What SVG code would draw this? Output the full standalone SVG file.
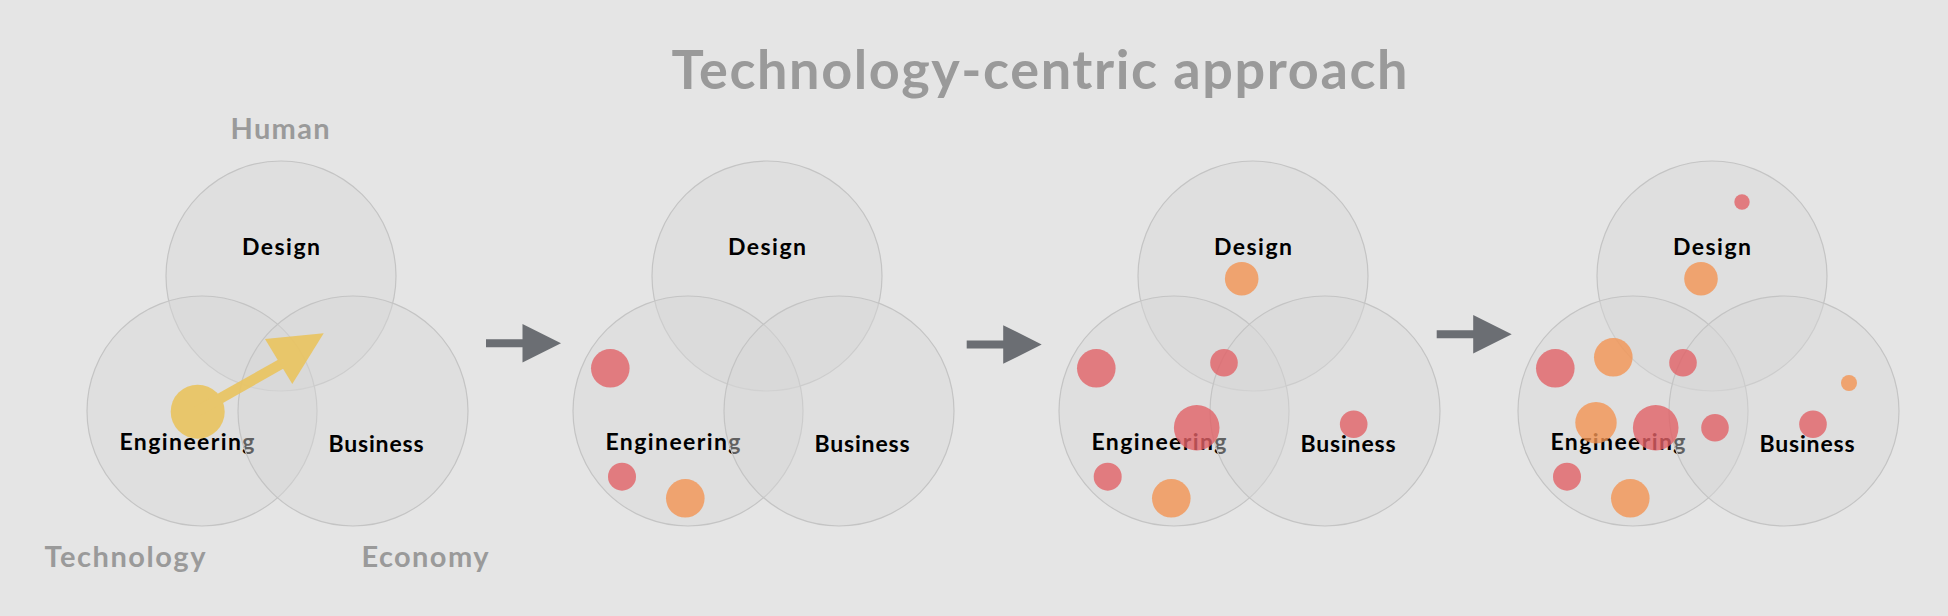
<svg xmlns="http://www.w3.org/2000/svg" xmlns:xlink="http://www.w3.org/1999/xlink" width="1948" height="616" viewBox="0 0 1948 616">
  <style>
    .bg { fill: #E5E5E5; }
    .set { fill: rgb(216,216,216); fill-opacity: 0.45; stroke: #C4C4C4; stroke-width: 1.2; }
    .lbl { font-family: Lato, "Noto Sans", "DejaVu Sans", sans-serif; font-weight: 700; font-size: 23px; fill: #000; text-anchor: middle; }
    .dim { font-family: Lato, "Noto Sans", "DejaVu Sans", sans-serif; font-weight: 700; fill: #9A9A9A; text-anchor: middle; }
    .red { fill: rgb(225,98,102); fill-opacity: 0.8; }
    .org { fill: rgb(242,148,82); fill-opacity: 0.8; }
    .gar { fill: #6B6E73; }
    .yel { fill: rgb(234,196,95); opacity: 0.9; }
  </style>
  <defs>
    <path id="garrow" d="M0,-4 L36.5,-4 L36.5,-19.3 L75,0 L36.5,19.3 L36.5,4 L0,4 Z"/>
  </defs>
  <rect class="bg" x="0" y="0" width="1948" height="616"/>

  <text id="title" class="dim" x="1039.5" y="89" font-size="54" textLength="736" lengthAdjust="spacing">Technology-centric approach</text>

  <g id="axis-labels">
    <text id="label-human" class="dim" x="280" y="139" font-size="29" textLength="99" lengthAdjust="spacing">Human</text>
    <text id="label-technology" class="dim" x="125" y="567" font-size="29" textLength="161" lengthAdjust="spacing">Technology</text>
    <text id="label-economy" class="dim" x="425" y="567" font-size="29" textLength="127" lengthAdjust="spacing">Economy</text>
  </g>

  <!-- Panel 1 -->
  <g id="panel1">
    <g id="p1-design"><circle class="set" cx="281" cy="276" r="115"/><text class="lbl" x="281" y="255" textLength="78" lengthAdjust="spacing">Design</text></g>
    <g id="p1-engineering"><circle class="set" cx="202" cy="411" r="115"/><text class="lbl" x="187" y="450" textLength="135" lengthAdjust="spacing">Engineering</text></g>
    <g id="p1-business"><circle class="set" cx="353" cy="411" r="115"/><text class="lbl" x="376" y="451.5" textLength="95" lengthAdjust="spacing">Business</text></g>
    <g id="p1-move" class="yel">
      <circle cx="197.7" cy="411.7" r="27"/>
      <path d="M194,407 L283,357 L288,366 L200,416 Z"/>
      <polygon points="265,339 323.7,333.3 292.3,384"/>
    </g>
  </g>

  <!-- Panel 2 -->
  <g id="panel2">
    <g id="p2-design"><circle class="set" cx="767" cy="276" r="115"/><text class="lbl" x="767" y="255" textLength="78" lengthAdjust="spacing">Design</text></g>
    <g id="p2-engineering"><circle class="set" cx="688" cy="411" r="115"/><text class="lbl" x="673" y="450" textLength="135" lengthAdjust="spacing">Engineering</text></g>
    <g id="p2-business"><circle class="set" cx="839" cy="411" r="115"/><text class="lbl" x="862" y="451.5" textLength="95" lengthAdjust="spacing">Business</text></g>
    <g id="p2-dots">
      <circle class="red" cx="610.3" cy="368.3" r="19.3"/>
      <circle class="red" cx="622" cy="476.7" r="14"/>
      <circle class="org" cx="685.3" cy="498.3" r="19.3"/>
    </g>
  </g>

  <!-- Panel 3 -->
  <g id="panel3">
    <g id="p3-design"><circle class="set" cx="1253" cy="276" r="115"/><text class="lbl" x="1253" y="255" textLength="78" lengthAdjust="spacing">Design</text></g>
    <g id="p3-engineering"><circle class="set" cx="1174" cy="411" r="115"/><text class="lbl" x="1159" y="450" textLength="135" lengthAdjust="spacing">Engineering</text></g>
    <g id="p3-business"><circle class="set" cx="1325" cy="411" r="115"/><text class="lbl" x="1348" y="451.5" textLength="95" lengthAdjust="spacing">Business</text></g>
    <g id="p3-dots">
      <circle class="org" cx="1241.7" cy="278.7" r="16.8"/>
      <circle class="red" cx="1096.3" cy="368.3" r="19.3"/>
      <circle class="red" cx="1224" cy="362.7" r="13.8"/>
      <circle class="red" cx="1196.7" cy="427.7" r="22.8"/>
      <circle class="red" cx="1353.7" cy="424.3" r="13.8"/>
      <circle class="red" cx="1107.7" cy="476.7" r="14"/>
      <circle class="org" cx="1171.3" cy="498.3" r="19.3"/>
    </g>
  </g>

  <!-- Panel 4 -->
  <g id="panel4">
    <g id="p4-design"><circle class="set" cx="1712" cy="276" r="115"/><text class="lbl" x="1712" y="255" textLength="78" lengthAdjust="spacing">Design</text></g>
    <g id="p4-engineering"><circle class="set" cx="1633" cy="411" r="115"/><text class="lbl" x="1618" y="450" textLength="135" lengthAdjust="spacing">Engineering</text></g>
    <g id="p4-business"><circle class="set" cx="1784" cy="411" r="115"/><text class="lbl" x="1807" y="451.5" textLength="95" lengthAdjust="spacing">Business</text></g>
    <g id="p4-dots">
      <circle class="red" cx="1742" cy="202" r="7.7"/>
      <circle class="org" cx="1701" cy="278.7" r="16.8"/>
      <circle class="red" cx="1555.3" cy="368.3" r="19.3"/>
      <circle class="org" cx="1613.3" cy="357.3" r="19.3"/>
      <circle class="red" cx="1683" cy="362.7" r="13.8"/>
      <circle class="org" cx="1849" cy="383" r="8"/>
      <circle class="org" cx="1596" cy="422.7" r="20.7"/>
      <circle class="red" cx="1655.7" cy="427.7" r="22.8"/>
      <circle class="red" cx="1715" cy="427.7" r="13.8"/>
      <circle class="red" cx="1813" cy="424.3" r="13.8"/>
      <circle class="red" cx="1567" cy="476.7" r="14"/>
      <circle class="org" cx="1630.3" cy="498.3" r="19.3"/>
    </g>
  </g>

  <g id="connectors">
    <use xlink:href="#garrow" href="#garrow" class="gar" transform="translate(486,343.3)"/>
    <use xlink:href="#garrow" href="#garrow" class="gar" transform="translate(966.7,344.5)"/>
    <use xlink:href="#garrow" href="#garrow" class="gar" transform="translate(1436.7,334.3)"/>
  </g>
</svg>
